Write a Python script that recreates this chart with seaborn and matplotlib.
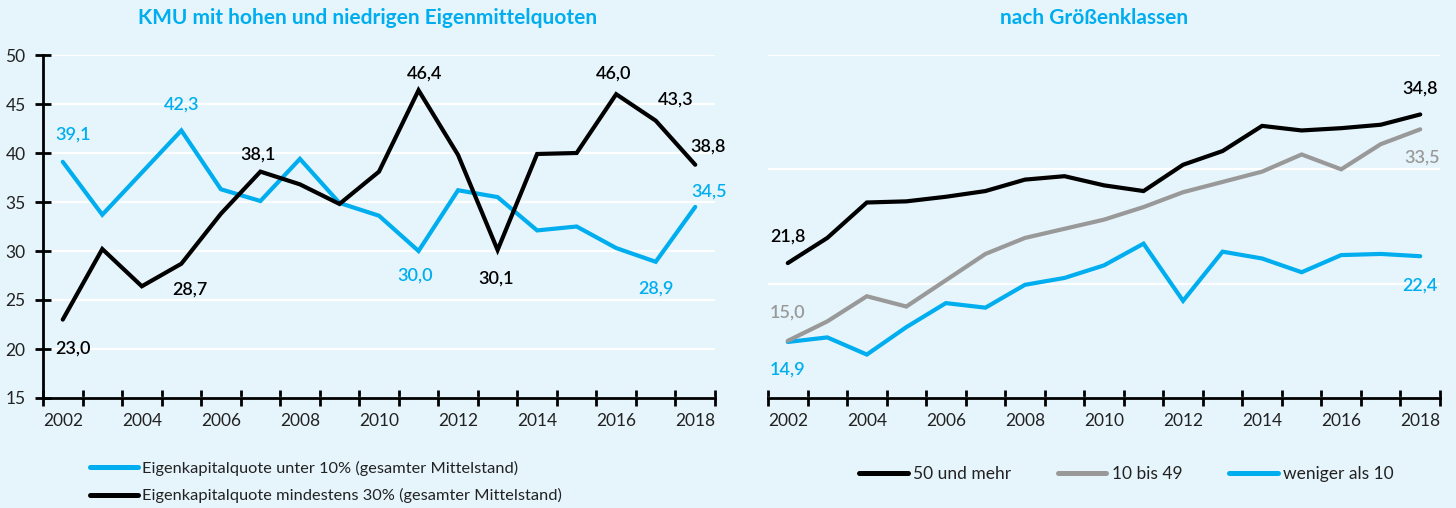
import numpy as np
import pandas as pd
import matplotlib
matplotlib.use("Agg")
import matplotlib.pyplot as plt
from matplotlib.lines import Line2D
import seaborn as sns

# ---- data -------------------------------------------------------------
years = list(range(2002, 2019))

# left panel: share of SMEs with low / high equity ratio
quote_unter_10 = [39.1, 33.7, 38.0, 42.3, 36.3, 35.1, 39.4, 34.9, 33.6, 30.0,
                  36.2, 35.5, 32.1, 32.5, 30.3, 28.9, 34.5]
quote_mind_30 = [23.0, 30.2, 26.4, 28.7, 33.8, 38.1, 36.8, 34.8, 38.1, 46.4,
                 39.8, 30.1, 39.9, 40.0, 46.0, 43.3, 38.8]

# right panel: equity ratio by size class (employees)
klasse_50_mehr = [21.8, 24.0, 27.1, 27.2, 27.6, 28.1, 29.1, 29.4, 28.6, 28.1,
                  30.4, 31.6, 33.8, 33.4, 33.6, 33.9, 34.8]
klasse_10_49 = [15.0, 16.7, 18.9, 18.0, 20.3, 22.6, 24.0, 24.8, 25.6, 26.7,
                28.0, 28.9, 29.8, 31.3, 30.0, 32.2, 33.5]
klasse_unter_10 = [14.9, 15.3, 13.8, 16.2, 18.3, 17.9, 19.9, 20.5, 21.6, 23.5,
                   18.5, 22.8, 22.2, 21.0, 22.5, 22.6, 22.4]

names_left = ["Eigenkapitalquote unter 10% (gesamter Mittelstand)",
              "Eigenkapitalquote mindestens 30% (gesamter Mittelstand)"]
names_right = ["50 und mehr", "10 bis 49", "weniger als 10"]

title_left = "KMU mit hohen und niedrigen Eigenmittelquoten"
title_right = "nach Größenklassen"

# ---- style ------------------------------------------------------------
BG = "#E6F5FC"
BLUE = "#00AEEF"
BLACK = "#000000"
GREY = "#999999"
TEXT = "#222222"

sns.set_style("white", {"axes.facecolor": BG, "figure.facecolor": BG})
plt.rcParams["font.family"] = ["Lato", "DejaVu Sans"]

W, H = 1456, 508
fig = plt.figure(figsize=(W / 100, H / 100), dpi=100)
ax1 = fig.add_axes([43 / W, 110 / H, 672 / W, 343 / H])
ax2 = fig.add_axes([768 / W, 110 / H, 672 / W, 343 / H])

df_left = pd.DataFrame({
    "Jahr": years * 2,
    "Wert": quote_unter_10 + quote_mind_30,
    "Reihe": [names_left[0]] * len(years) + [names_left[1]] * len(years),
})
df_right = pd.DataFrame({
    "Jahr": years * 3,
    "Wert": klasse_50_mehr + klasse_10_49 + klasse_unter_10,
    "Reihe": ([names_right[0]] * len(years) + [names_right[1]] * len(years)
              + [names_right[2]] * len(years)),
})

pal_left = {names_left[0]: BLUE, names_left[1]: BLACK}
pal_right = {names_right[0]: BLACK, names_right[1]: GREY, names_right[2]: BLUE}

LW = 3.0
sns.lineplot(data=df_left, x="Jahr", y="Wert", hue="Reihe", palette=pal_left,
             hue_order=names_left, linewidth=LW, legend=False, ax=ax1,
             solid_capstyle="round", solid_joinstyle="miter")
sns.lineplot(data=df_right, x="Jahr", y="Wert", hue="Reihe", palette=pal_right,
             hue_order=names_right[::-1], linewidth=LW, legend=False, ax=ax2,
             solid_capstyle="round", solid_joinstyle="miter")


def style_axes(ax, ylim, yticks, show_y):
    ax.set_xlim(2001.5, 2018.5)
    ax.set_ylim(*ylim)
    ax.set_xlabel("")
    ax.set_ylabel("")
    ax.set_axisbelow(True)
    ax.set_yticks(yticks)
    ax.yaxis.grid(True, color="white", linewidth=1.6)
    ax.xaxis.grid(False)
    for side in ("top", "right"):
        ax.spines[side].set_visible(False)
    ax.spines["bottom"].set_linewidth(2)
    ax.spines["bottom"].set_color(BLACK)
    if show_y:
        ax.spines["left"].set_linewidth(2)
        ax.spines["left"].set_color(BLACK)
        ax.tick_params(axis="y", which="major", direction="inout", length=11,
                       width=2, color=BLACK, pad=7, labelsize=12.5,
                       labelcolor=TEXT, left=True)
    else:
        ax.spines["left"].set_visible(False)
        ax.tick_params(axis="y", left=False, labelleft=False)
    ax.set_xticks(range(2002, 2019, 2))
    ax.set_xticks(np.arange(2001.5, 2019.0, 1.0), minor=True)
    ax.tick_params(axis="x", which="major", length=0, pad=11, labelsize=12.5,
                   labelcolor=TEXT)
    ax.tick_params(axis="x", which="minor", direction="inout", length=11,
                   width=2, color=BLACK, bottom=True)


style_axes(ax1, (15, 50), range(15, 51, 5), True)
style_axes(ax2, (10, 40), [10, 20, 30, 40], False)


def fmt(v):
    return f"{v:.1f}".replace(".", ",")


def label(ax, series, year, dx, dy, color):
    v = series[years.index(year)]
    ax.annotate(fmt(v), (year, v), xytext=(dx, dy), textcoords="offset pixels",
                ha="center", va="center", fontsize=13, fontweight="semibold",
                color=color, annotation_clip=False)


# value labels, left panel
for yr, dx, dy in [(2002, 10, 27), (2005, 0, 26), (2011, -3, -25),
                   (2017, 0, -27), (2018, 14, 15)]:
    label(ax1, quote_unter_10, yr, dx, dy, BLUE)
for yr, dx, dy in [(2002, 10, -29), (2005, 9, -26), (2007, -2, 17),
                   (2011, 6, 17), (2013, -1, -29), (2016, -3, 21),
                   (2017, 20, 21), (2018, 13, 18)]:
    label(ax1, quote_mind_30, yr, dx, dy, BLACK)

# value labels, right panel
label(ax2, klasse_50_mehr, 2002, 0, 27, BLACK)
label(ax2, klasse_50_mehr, 2018, 0, 26, BLACK)
label(ax2, klasse_10_49, 2002, 0, 28, GREY)
label(ax2, klasse_10_49, 2018, 2, -28, GREY)
label(ax2, klasse_unter_10, 2002, 0, -28, BLUE)
label(ax2, klasse_unter_10, 2018, 0, -29, BLUE)

# titles
fig.text(368 / W, 1 - 18 / H, title_left, ha="center", va="center",
         fontsize=15, fontweight="bold", color=BLUE)
fig.text(1094 / W, 1 - 18 / H, title_right, ha="center", va="center",
         fontsize=15, fontweight="bold", color=BLUE)

# legends
def handle(c):
    return Line2D([], [], color=c, linewidth=3.6, solid_capstyle="round")


fig.legend([handle(BLUE), handle(BLACK)], names_left, loc="upper left",
           bbox_to_anchor=(90 / W, 1 - 461 / H), frameon=False, fontsize=11.8,
           handlelength=2.9, handletextpad=0.3, labelspacing=0.75,
           borderpad=0, borderaxespad=0, labelcolor=TEXT)
fig.legend([handle(BLACK), handle(GREY), handle(BLUE)], names_right,
           loc="upper left", bbox_to_anchor=(859 / W, 1 - 466 / H), ncol=3,
           frameon=False, fontsize=12.5, handlelength=2.8, handletextpad=0.3,
           columnspacing=2.7, borderpad=0, borderaxespad=0, labelcolor=TEXT)

fig.savefig("out.png", dpi=100, facecolor=BG)
